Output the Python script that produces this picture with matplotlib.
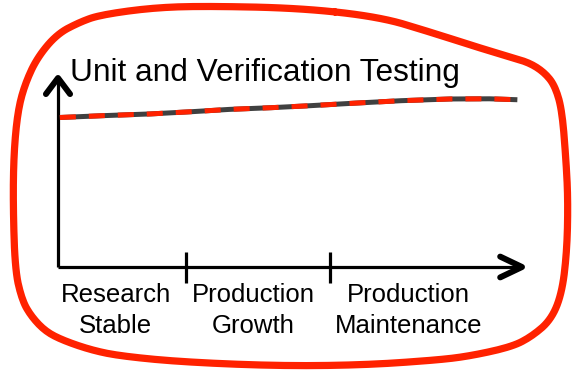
import numpy as np
import matplotlib
matplotlib.use("Agg")
import matplotlib.pyplot as plt

# ---- data (diagram units: time 0..100, effort 0..100) ----
time_pts = [0.4, 10, 20, 29, 37, 46, 54, 64, 74, 84.5, 93, 99]
effort_pts = [79.1, 80.1, 81.0, 82.2, 83.4, 84.3, 85.3, 86.7, 88.0, 88.9, 89.0, 88.5]
phase_ticks = [27.6, 58.6]
phase_labels = ["Research\nStable", "Production\nGrowth", "Production\nMaintenance"]
phase_label_x = [12.4, 42.0, 75.6]
title = "Unit and Verification Testing"

# decorative hand-drawn frame (figure pixels, origin top-left)
frame_px = [(300, 8), (380, 17), (430, 32), (480, 48), (510, 57), (530, 63), (545, 73),
            (555, 86), (562, 110), (566, 160), (568, 200), (567, 250), (562, 293),
            (551, 320), (531, 337), (511, 347), (470, 356), (438, 360), (365, 365),
            (280, 366), (182, 362), (120, 356), (91, 350), (62, 340), (45, 331),
            (31, 316), (22, 300), (15, 270), (13, 200), (14, 150), (18, 110),
            (25, 84), (37, 58), (57, 34), (80, 22), (100, 15), (150, 8), (200, 6), (300, 8)]

W, H = 573, 374
fig = plt.figure(figsize=(W / 100, H / 100), dpi=100)
plt.rcParams['font.family'] = ['Liberation Sans', 'DejaVu Sans']

# frame overlay
fa = fig.add_axes([0, 0, 1, 1])
fa.set_xlim(0, W)
fa.set_ylim(H, 0)
fa.axis("off")
pts = np.array(frame_px, dtype=float)
for _ in range(3):
    p = pts[:-1]
    q = np.roll(p, -1, axis=0)
    new = np.empty((2 * len(p), 2))
    new[0::2] = 0.75 * p + 0.25 * q
    new[1::2] = 0.25 * p + 0.75 * q
    pts = np.vstack([new, new[:1]])
fa.plot(pts[:, 0], pts[:, 1], color="#ff2200", lw=5.2, solid_capstyle="round",
        solid_joinstyle="round")

# diagram axes
ax = fig.add_axes([58 / W, 107 / H, 464 / W, 189 / H])
ax.set_xlim(0, 100)
ax.set_ylim(0, 100)
ax.axis("off")

k = dict(color="black", clip_on=False, solid_capstyle="butt")
ax.plot([0, 0], [0, 99], lw=2.3, **k)
ax.plot([0, 99], [0, 0], lw=2.3, **k)
ax.plot([-2.6, 0, 2.6], [91.5, 100, 91.5], color="black", lw=4.3, clip_on=False,
        solid_capstyle="round", solid_joinstyle="round")
ax.plot([95.3, 100, 95.3], [5.5, 0, -5.5], color="black", lw=4.3, clip_on=False,
        solid_capstyle="round", solid_joinstyle="round")
for t in phase_ticks:
    ax.plot([t, t], [8.2, -8.5], lw=2.3, **k)

for lx, lab in zip(phase_label_x, phase_labels):
    ax.text(lx, -8.6, lab, ha="center", va="top", fontsize=18.5, linespacing=1.38,
            color="black", clip_on=False)

ax.text(2.5, 98.4, title, ha="left", va="baseline", fontsize=22.8, color="black",
        clip_on=False)

ax.plot(time_pts, effort_pts, color="#404040", lw=3.6, clip_on=False,
        solid_capstyle="butt")
ax.plot(time_pts, effort_pts, color="#ff2200", lw=3.6, clip_on=False,
        linestyle=(0, (3.2, 2.6)), dash_capstyle="butt")

fig.savefig("out.png", dpi=100)
